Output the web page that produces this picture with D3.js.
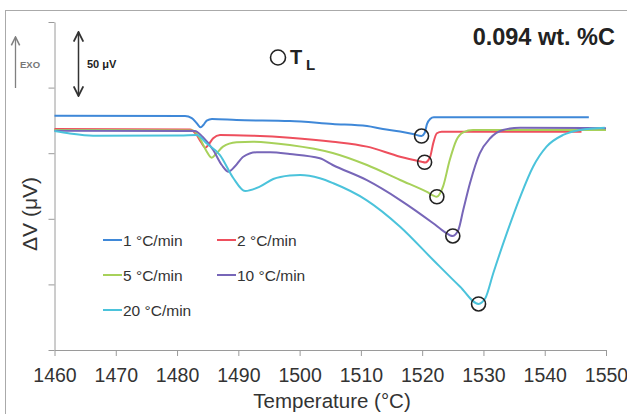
<!DOCTYPE html>
<html>
<head>
<meta charset="utf-8">
<script src="https://cdn.jsdelivr.net/npm/d3@7"></script>
<style>
  body { margin: 0; background: #fff; }
  svg { display: block; font-family: "Liberation Sans", Arial, sans-serif; }
</style>
</head>
<body>
<div id="chart"></div>
<script>
// Heating rates and colours
const rates = ["1 °C/min", "2 °C/min", "5 °C/min", "10 °C/min", "20 °C/min"];
const colors = ["#3f88d8", "#ee4f5d", "#a7d15a", "#7766b8", "#4bc3db"];

// DTA curves, temperature (°C) and signal (µV)
const temp1 = [1460, 1481.3, 1482.4, 1483.25, 1483.86, 1484.3, 1484.84, 1485.7, 1489.7, 1498.4, 1505.4, 1511.0, 1513.6, 1516.4, 1518.5, 1519.9, 1520.4, 1520.8, 1521.3, 1521.9, 1547.2];
const dv1 = [178.6, 178.4, 176.8, 172.6, 169.7, 171.5, 174.8, 176.1, 175.3, 174.5, 172.3, 170.7, 168.4, 166.5, 164.6, 163.1, 165.4, 172.3, 176.1, 177.4, 177.4];

const temp2 = [1460, 1482.1, 1483.1, 1483.9, 1484.6, 1485.2, 1485.9, 1487.0, 1492.4, 1498.4, 1505.4, 1511.0, 1516.4, 1519.9, 1520.5, 1521.3, 1521.8, 1522.4, 1523.2, 1546.0];
const dv2 = [168.4, 168.1, 164.6, 158.5, 154.2, 157.0, 161.4, 163.9, 163.3, 161.8, 158.8, 155.0, 147.3, 143.5, 142.9, 147.3, 157.5, 165.2, 166.4, 166.4];

const temp5 = [1460, 1482.6, 1483.7, 1484.7, 1485.65, 1486.35, 1487.5, 1489.7, 1492.4, 1498.4, 1505.4, 1511.0, 1516.4, 1520.7, 1522.4, 1523.4, 1524.5, 1525.6, 1526.7, 1528.3, 1550];
const dv5 = [167.7, 167.3, 161.6, 152.4, 146.6, 149.4, 155.0, 158.3, 158.8, 156.3, 150.2, 141.0, 129.6, 120.7, 116.8, 124.5, 144.8, 160.1, 165.9, 167.7, 167.7];

const temp10 = [1460, 1482.9, 1484.2, 1485.9, 1487.3, 1488.4, 1489.5, 1490.8, 1493.0, 1495.2, 1498.4, 1503.3, 1505.4, 1510.9, 1516.4, 1521.8, 1523.7, 1525.0, 1525.9, 1526.7, 1527.8, 1529.4, 1531.1, 1533.2, 1536.0, 1550];
const dv10 = [167.2, 166.9, 162.3, 152.4, 141.0, 135.9, 140.2, 147.3, 150.7, 150.7, 149.4, 146.1, 141.0, 129.6, 114.3, 96.6, 89.9, 86.9, 91.5, 106.7, 127.1, 149.9, 161.4, 167.7, 169.4, 169.0];

const temp20 = [1460, 1462.5, 1466.3, 1480.5, 1483.2, 1484.8, 1487.0, 1489.2, 1491.1, 1493.5, 1495.7, 1498.4, 1500.1, 1503.3, 1505.5, 1510.9, 1516.4, 1521.8, 1526.2, 1529.2, 1530.3, 1531.6, 1533.8, 1536.0, 1538.1, 1540.3, 1543.0, 1545.8, 1549.8];
const dv20 = [166.9, 165.0, 163.3, 163.5, 163.9, 157.5, 148.6, 130.9, 121.2, 124.5, 130.3, 133.0, 133.4, 130.9, 127.1, 114.3, 94.0, 68.6, 48.2, 35.1, 39.4, 58.5, 88.9, 116.8, 139.7, 155.0, 163.9, 167.7, 169.4];

const temps = [temp1, temp2, temp5, temp10, temp20];
const dvs = [dv1, dv2, dv5, dv10, dv20];

// Liquidus temperature markers (T_L)
const tlTemp = [1519.9, 1520.4, 1522.4, 1525.0, 1529.2];
const tlDv = [163.1, 143.1, 116.8, 86.9, 35.1];

const xTicks = [1460, 1470, 1480, 1490, 1500, 1510, 1520, 1530, 1540, 1550];
const yTicks = [0, 50, 100, 150, 200, 250];

const FONT = "'Liberation Sans', Arial, sans-serif";
const width = 627, height = 414;
const svg = d3.select("#chart").append("svg")
  .attr("width", width)
  .attr("height", height)
  .attr("font-family", FONT);

// outer frame
svg.append("rect")
  .attr("x", 5.5).attr("y", 10.5)
  .attr("width", 640).attr("height", 420)
  .attr("fill", "none")
  .attr("stroke", "#aaa")
  .attr("stroke-width", 1);

const x = d3.scaleLinear().domain([1460, 1550]).range([54.5, 606]);
const y = d3.scaleLinear().domain([0, 250]).range([350, 22]);

// axes
const xAxis = svg.append("g")
  .attr("transform", "translate(0,350)")
  .call(d3.axisBottom(x).tickValues(xTicks).tickSize(6).tickSizeOuter(0).tickPadding(12).tickFormat(d3.format("d")));
xAxis.attr("font-family", FONT);
xAxis.selectAll("text").attr("font-size", "19.5px").attr("fill", "#333");

const yAxis = svg.append("g")
  .attr("transform", "translate(54.5,0)")
  .call(d3.axisLeft(y).tickValues(yTicks).tickSize(6).tickSizeOuter(0).tickFormat(""));

svg.selectAll(".domain, .tick line").attr("stroke", "#9a9a9a").attr("stroke-width", 1);

// axis titles
svg.append("text")
  .attr("x", 332).attr("y", 408)
  .attr("text-anchor", "middle")
  .attr("font-size", "20.5px")
  .attr("fill", "#333")
  .text("Temperature (°C)");

svg.append("text")
  .attr("transform", "translate(37,214) rotate(-90)")
  .attr("text-anchor", "middle")
  .attr("font-size", "21px")
  .attr("fill", "#333")
  .text("ΔV (μV)");

// curves
const line = d3.line()
  .x(d => x(d[0]))
  .y(d => y(d[1]))
  .curve(d3.curveMonotoneX);

rates.forEach((r, i) => {
  const pts = temps[i].map((t, j) => [t, dvs[i][j]]);
  svg.append("path")
    .datum(pts)
    .attr("d", line)
    .attr("fill", "none")
    .attr("stroke", colors[i])
    .attr("stroke-width", 2);
});

// T_L circles
svg.selectAll("circle.tl")
  .data(tlTemp)
  .enter().append("circle")
  .attr("class", "tl")
  .attr("cx", d => x(d))
  .attr("cy", (d, i) => y(tlDv[i]))
  .attr("r", 7)
  .attr("fill", "none")
  .attr("stroke", "#222")
  .attr("stroke-width", 1.6);

// legend
const legend = svg.append("g");
rates.forEach((r, i) => {
  const lx = i % 2 === 0 ? 103 : 217;
  const ly = 240 + Math.floor(i / 2) * 35;
  legend.append("line")
    .attr("x1", lx).attr("x2", lx + 19)
    .attr("y1", ly).attr("y2", ly)
    .attr("stroke", colors[i])
    .attr("stroke-width", 2);
  legend.append("text")
    .attr("x", lx + 20).attr("y", ly + 5.5)
    .attr("font-size", "15.5px")
    .attr("fill", "#333")
    .text(r);
});

// annotations
const defs = svg.append("defs");
defs.append("marker")
  .attr("id", "head")
  .attr("viewBox", "0 0 10 10")
  .attr("refX", 9).attr("refY", 5)
  .attr("markerWidth", 8).attr("markerHeight", 8)
  .attr("orient", "auto-start-reverse")
  .append("path")
  .attr("d", "M1,1 L9,5 L1,9")
  .attr("fill", "none")
  .attr("stroke", "context-stroke")
  .attr("stroke-width", 1.5);

// EXO arrow
svg.append("line")
  .attr("x1", 15.5).attr("x2", 15.5)
  .attr("y1", 88).attr("y2", 37)
  .attr("stroke", "#808080")
  .attr("stroke-width", 1.3)
  .attr("marker-end", "url(#head)");
svg.append("text")
  .attr("x", 20).attr("y", 67.5)
  .attr("font-size", "9.5px")
  .attr("font-weight", "bold")
  .attr("fill", "#777")
  .text("EXO");

// 50 µV scale arrow
svg.append("line")
  .attr("x1", 78.5).attr("x2", 78.5)
  .attr("y1", 32).attr("y2", 96)
  .attr("stroke", "#333")
  .attr("stroke-width", 1.5)
  .attr("marker-start", "url(#head)")
  .attr("marker-end", "url(#head)");
svg.append("text")
  .attr("x", 87).attr("y", 68)
  .attr("font-size", "11px")
  .attr("font-weight", "bold")
  .attr("fill", "#222")
  .text("50 μV");

// T_L key
svg.append("circle")
  .attr("cx", 278).attr("cy", 57.5).attr("r", 7.5)
  .attr("fill", "none")
  .attr("stroke", "#222")
  .attr("stroke-width", 1.6);
svg.append("text")
  .attr("x", 290).attr("y", 64)
  .attr("font-size", "20px")
  .attr("font-weight", "bold")
  .attr("fill", "#222")
  .text("T");
svg.append("text")
  .attr("x", 306).attr("y", 70)
  .attr("font-size", "15px")
  .attr("font-weight", "bold")
  .attr("fill", "#222")
  .text("L");

// composition
svg.append("text")
  .attr("x", 615).attr("y", 45)
  .attr("text-anchor", "end")
  .attr("font-size", "23.5px")
  .attr("font-weight", "bold")
  .attr("fill", "#222")
  .text("0.094 wt. %C");
</script>
</body>
</html>
